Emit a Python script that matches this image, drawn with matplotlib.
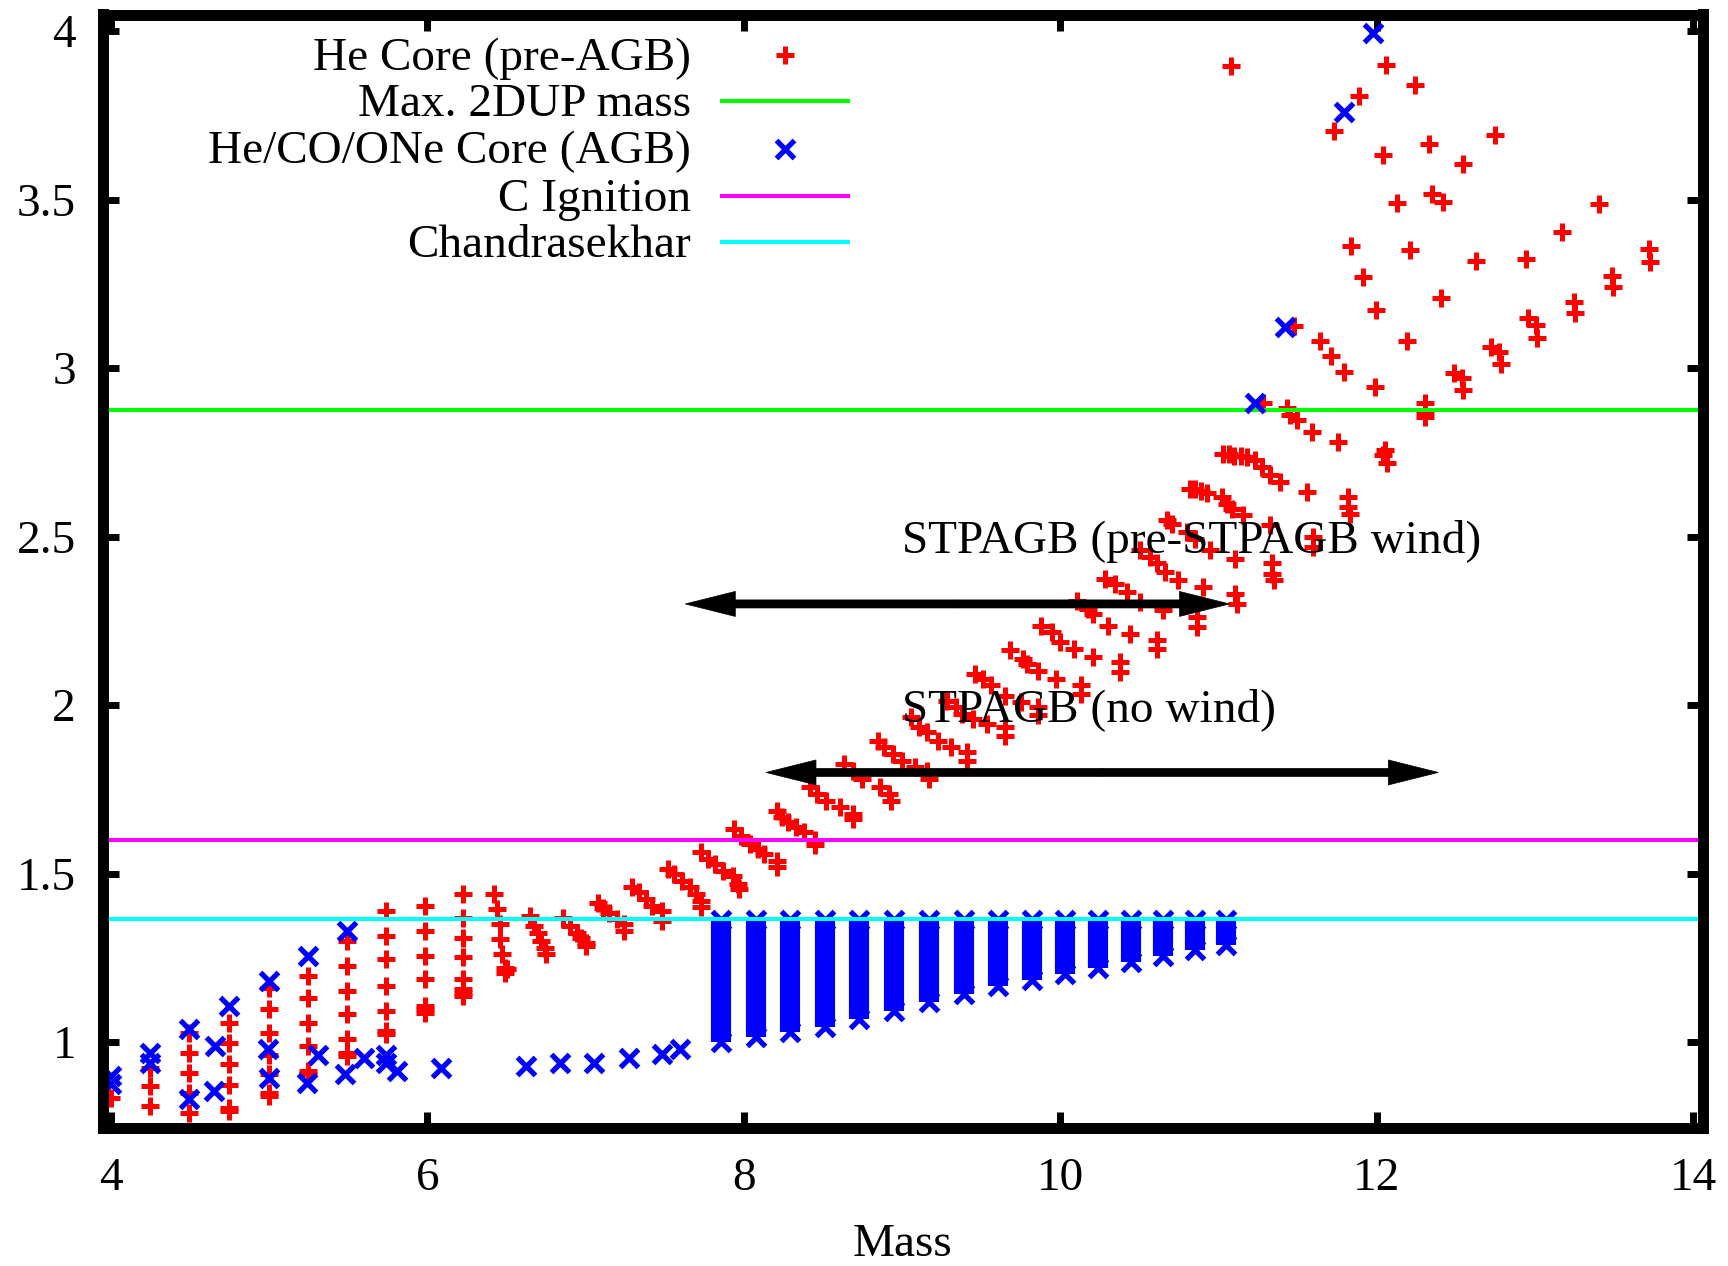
import matplotlib
matplotlib.use("Agg")
import matplotlib.pyplot as plt
from matplotlib.patches import FancyArrowPatch, ArrowStyle

plt.rcParams['font.family'] = ['Liberation Serif', 'DejaVu Serif']
plt.rcParams['font.size'] = 34

# --- He core mass at the start of the AGB (red +) ---
# low masses: one column per initial mass
he_low = [
    (4.0, 0.835),
    (4.247, 0.810), (4.247, 0.869), (4.247, 0.924),
    (4.49, 0.790), (4.49, 0.849), (4.49, 0.909), (4.49, 0.968), (4.49, 1.028),
    (4.748, 0.795), (4.748, 0.805), (4.748, 0.874), (4.748, 0.934), (4.748, 0.998), (4.748, 1.057),
    (4.996, 0.840), (4.996, 0.849), (4.996, 0.904), (4.996, 0.963), (4.996, 1.028), (4.996, 1.097), (4.996, 1.161),
    (5.245, 0.904), (5.245, 0.914), (5.245, 0.988), (5.245, 1.057), (5.245, 1.132), (5.245, 1.196),
    (5.49, 0.958), (5.49, 0.968), (5.49, 1.008), (5.49, 1.082), (5.49, 1.152), (5.49, 1.226), (5.49, 1.300),
    (5.738, 1.023), (5.738, 1.033), (5.738, 1.092), (5.738, 1.166), (5.738, 1.246), (5.738, 1.315), (5.738, 1.389),
    (5.984, 1.087), (5.984, 1.097), (5.984, 1.107), (5.984, 1.186), (5.984, 1.256), (5.984, 1.330), (5.984, 1.404),
    (6.224, 1.137), (6.224, 1.147), (6.224, 1.157), (6.224, 1.186), (6.224, 1.251), (6.224, 1.310), (6.224, 1.369), (6.224, 1.439),
    (6.42, 1.439), (6.44, 1.394), (6.46, 1.350), (6.46, 1.305), (6.47, 1.261), (6.49, 1.221), (6.49, 1.206), (6.50, 1.216),
]

# intermediate masses: diagonal runs
he_band = [
    (6.647, 1.374), (6.675, 1.345), (6.698, 1.325), (6.717, 1.300), (6.74, 1.280), (6.752, 1.261),
    (6.858, 1.369), (6.90, 1.345), (6.943, 1.325), (6.97, 1.310), (7.0, 1.295), (7.0, 1.285),
    (7.08, 1.414), (7.11, 1.399), (7.15, 1.384), (7.20, 1.364), (7.24, 1.350), (7.24, 1.330),
    (7.295, 1.459), (7.34, 1.444), (7.38, 1.424), (7.42, 1.404), (7.48, 1.389), (7.48, 1.360),
    (7.52, 1.513), (7.56, 1.498), (7.61, 1.478), (7.66, 1.459), (7.70, 1.439), (7.73, 1.419), (7.73, 1.40),
    (7.73, 1.563), (7.775, 1.543), (7.82, 1.528), (7.87, 1.508), (7.93, 1.493), (7.96, 1.469), (7.97, 1.454),
    (7.94, 1.633), (7.98, 1.61), (8.04, 1.587), (8.09, 1.573), (8.13, 1.558), (8.21, 1.538), (8.21, 1.518),
    (8.21, 1.686), (8.24, 1.667), (8.28, 1.652), (8.33, 1.637), (8.38, 1.622), (8.45, 1.60), (8.45, 1.585),
    (8.42, 1.756), (8.465, 1.736), (8.52, 1.716), (8.605, 1.696), (8.69, 1.677), (8.69, 1.662),
    (8.633, 1.825), (8.69, 1.805), (8.747, 1.781), (8.86, 1.756), (8.917, 1.736), (8.93, 1.716),
    (8.846, 1.894), (8.888, 1.875), (8.944, 1.855), (9.0, 1.835), (9.085, 1.815), (9.156, 1.805), (9.17, 1.781),
    (9.057, 1.964), (9.11, 1.934), (9.156, 1.919), (9.227, 1.894), (9.31, 1.875), (9.41, 1.86), (9.41, 1.835),
    (9.283, 2.013), (9.34, 1.994), (9.382, 1.974), (9.45, 1.959), (9.54, 1.944), (9.65, 1.934), (9.65, 1.909),
    (9.46, 2.093), (9.51, 2.078), (9.565, 2.058), (9.65, 2.028), (9.75, 2.01), (9.86, 1.994), (9.86, 1.969),
    (9.68, 2.162), (9.763, 2.137), (9.79, 2.122), (9.86, 2.102), (9.975, 2.078), (10.13, 2.058), (10.13, 2.033),
    (9.876, 2.236), (9.946, 2.216), (10.0, 2.187), (10.09, 2.167), (10.21, 2.142), (10.38, 2.127), (10.38, 2.097),
    (10.104, 2.31), (10.178, 2.286), (10.21, 2.271), (10.30, 2.236), (10.441, 2.211), (10.61, 2.192), (10.61, 2.167),
    (10.283, 2.375), (10.346, 2.36), (10.42, 2.335), (10.504, 2.306), (10.652, 2.281), (10.863, 2.261), (10.863, 2.231),
    (10.504, 2.459), (10.568, 2.439), (10.61, 2.42), (10.662, 2.395), (10.747, 2.37), (10.905, 2.35), (11.105, 2.33), (11.115, 2.30),
    (10.673, 2.548), (10.705, 2.538), (10.80, 2.514), (10.852, 2.494), (10.947, 2.459), (11.105, 2.434),
    (11.337, 2.42), (11.337, 2.39), (11.35, 2.37),
    (10.82, 2.64), (10.85, 2.64), (10.89, 2.635), (10.93, 2.63), (11.02, 2.618), (11.052, 2.598), (11.084, 2.583),
    (11.158, 2.563), (11.326, 2.533), (11.60, 2.499), (11.60, 2.469),
    (11.03, 2.745), (11.07, 2.745), (11.10, 2.74), (11.14, 2.74), (11.18, 2.735), (11.231, 2.727), (11.273, 2.707),
    (11.326, 2.682), (11.389, 2.662), (11.558, 2.633), (11.821, 2.618), (11.821, 2.588), (11.83, 2.568),
]

# high masses
he_high = [
    (11.284, 2.895), (11.431, 2.88), (11.453, 2.86), (11.495, 2.845), (11.59, 2.811), (11.758, 2.781),
    (12.053, 2.756), (12.04, 2.741), (12.064, 2.717),
    (12.061, 3.90), (11.077, 3.895), (12.243, 3.841), (11.89, 3.806), (11.73, 3.702), (12.749, 3.692),
    (12.329, 3.666), (12.042, 3.633), (12.546, 3.605), (12.352, 3.517), (12.422, 3.494), (12.126, 3.491),
    (13.407, 3.487), (13.169, 3.405), (11.839, 3.363), (12.208, 3.351), (13.722, 3.353), (13.729, 3.316),
    (12.628, 3.319), (12.947, 3.323), (11.916, 3.269), (13.489, 3.273), (13.496, 3.24), (12.406, 3.209),
    (11.996, 3.172), (13.25, 3.197), (13.255, 3.162), (11.478, 3.125), (12.959, 3.148), (13.006, 3.128),
    (13.013, 3.088), (11.641, 3.081), (12.189, 3.081), (11.711, 3.036), (12.726, 3.063), (12.772, 3.049),
    (12.784, 3.012), (11.793, 2.989), (12.492, 2.986), (12.539, 2.969), (12.546, 2.935), (11.991, 2.944),
    (12.306, 2.895), (12.306, 2.87), (12.306, 2.855),
]

# --- He/CO/ONe core at the end of the AGB (blue x) ---
agb_pts = [
    (4.0, 0.90), (4.0, 0.875), (4.247, 0.968), (4.247, 0.939), (4.49, 1.038), (4.49, 0.830),
    (4.66, 0.988), (4.65, 0.854), (4.746, 1.107), (4.996, 1.181), (4.99, 0.978), (4.996, 0.894),
    (5.245, 1.256), (5.24, 0.879), (5.31, 0.963), (5.49, 1.330), (5.48, 0.904), (5.60, 0.954),
    (5.74, 0.963), (5.74, 0.939), (5.81, 0.914), (6.086, 0.924), (6.62, 0.928), (6.84, 0.938),
    (7.055, 0.938), (7.275, 0.953), (7.48, 0.966), (7.595, 0.978),
    (11.233, 2.895), (11.419, 3.123), (11.793, 3.759), (11.979, 3.995),
]

# super-AGB runs: core grows from the first pulse up to the Chandrasekhar mass
sagb_mass = [7.858, 8.078, 8.295, 8.514, 8.731, 8.952, 9.172, 9.392,
             9.607, 9.820, 10.030, 10.241, 10.447, 10.652, 10.851, 11.047]
sagb_core_min = [1.000, 1.015, 1.030, 1.045, 1.068, 1.093, 1.120, 1.144,
                 1.167, 1.184, 1.203, 1.220, 1.238, 1.256, 1.273, 1.288]
sagb_core_max = [1.362] * len(sagb_mass)

# reference masses
max_2dup = 2.875
c_ignition = 1.6
chandrasekhar = 1.365

# mass ranges for the two STPAGB scenarios (from, to, core mass)
stpagb_wind = (11.07, 7.63, 2.30)
stpagb_nowind = (8.14, 12.39, 1.80)

fig = plt.figure(figsize=(17.28, 12.66), dpi=100)
ax = fig.add_axes([102.5 / 1728, 138 / 1266, 1600 / 1728, 1113.5 / 1266])

red_kw = dict(ls='none', marker='+', color='red', ms=12.5, mew=3.6)
blue_kw = dict(ls='none', marker='x', color='blue', ms=12.5, mew=3.8)

for grp in (he_low, he_band, he_high):
    xs, ys = zip(*grp)
    ax.plot(xs, ys, zorder=1, **red_kw)

ax.axhline(max_2dup, color='#00ff00', lw=2.9, zorder=2)

ax.vlines(sagb_mass, sagb_core_min, sagb_core_max, color='blue', lw=14.5,
          capstyle='butt', zorder=3)
ax.plot(sagb_mass, sagb_core_min, zorder=3, **blue_kw)
ax.plot(sagb_mass, sagb_core_max, zorder=3, **blue_kw)
bx, by = zip(*agb_pts)
ax.plot(bx, by, zorder=3, **blue_kw)

ax.axhline(c_ignition, color='#ff00ff', lw=2.9, zorder=4)
ax.axhline(chandrasekhar, color='#00ffff', lw=2.9, zorder=4)

# double-headed arrows, built from two filled halves meeting in the middle
head = ArrowStyle('simple', head_length=36, head_width=18, tail_width=5.8)
for x0, x1, yy in (stpagb_wind, stpagb_nowind):
    xm = 0.5 * (x0 + x1)
    for xe in (x0, x1):
        ax.add_patch(FancyArrowPatch((xm, yy), (xe, yy), arrowstyle=head,
                                     mutation_scale=1, fc='black', ec='black',
                                     lw=0.5, shrinkA=0, shrinkB=0, zorder=6))
ax.text(9.0, 2.5, "STPAGB (pre-STPAGB wind)", ha='left', va='center_baseline', zorder=7)
ax.text(9.0, 2.0, "STPAGB (no wind)", ha='left', va='center_baseline', zorder=7)

# key, gnuplot style: text on the left, sample on the right
key_y = [0.965, 0.9233, 0.8808, 0.8384, 0.7967]
key_lab = ["He Core (pre-AGB)", "Max. 2DUP mass", "He/CO/ONe Core (AGB)",
           "C Ignition", "Chandrasekhar"]
for yk, lab in zip(key_y, key_lab):
    ax.text(0.368, yk, lab, transform=ax.transAxes, ha='right', va='center_baseline')
ax.plot([0.4266], [key_y[0] - 0.0014], transform=ax.transAxes, **red_kw)
ax.plot([0.4266], [key_y[2] - 0.0014], transform=ax.transAxes, **blue_kw)
for yk, c in ((key_y[1], '#00ff00'), (key_y[3], '#ff00ff'), (key_y[4], '#00ffff')):
    ax.plot([0.3872, 0.4662], [yk - 0.0014] * 2, color=c, lw=2.9, transform=ax.transAxes)

ax.set_xlim(3.946, 14.06)
ax.set_ylim(0.745, 4.049)
ax.set_xticks([4, 6, 8, 10, 12, 14])
ax.set_yticks([1, 1.5, 2, 2.5, 3, 3.5, 4])
ax.set_yticklabels(['1', '1.5', '2', '2.5', '3', '3.5', '4'])
ax.tick_params(direction='in', length=11.5, width=5, top=True, right=True)
ax.tick_params(axis='x', pad=21.5)
ax.tick_params(axis='y', pad=19)
for sp in ax.spines.values():
    sp.set_linewidth(7.9)
    sp.set_zorder(8)

ax.set_xlabel("Mass")
ax.xaxis.set_label_coords(0.5, -0.086)

fig.savefig("out.png", dpi=100)
